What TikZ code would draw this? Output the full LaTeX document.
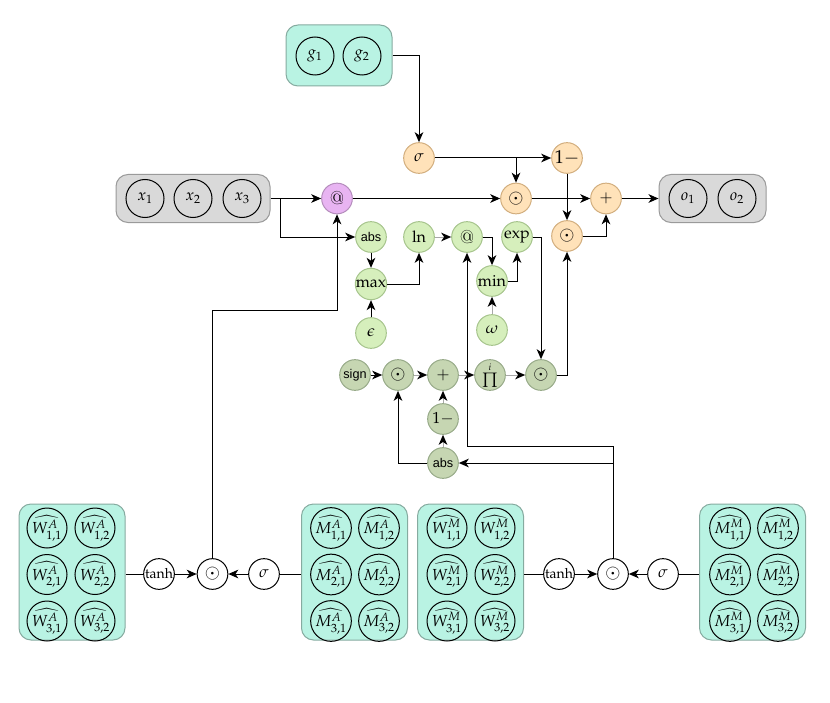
\documentclass[tikz,border=0pt]{standalone}
\usepackage{mathpazo}
\usepackage[no-math]{fontspec}
\setsansfont{Liberation Sans}
\usetikzlibrary{arrows.meta}

\definecolor{tealfill}{HTML}{B9F3E3}
\definecolor{tealline}{HTML}{86ABA0}
\definecolor{boxfill}{HTML}{D9D9D9}
\definecolor{boxline}{HTML}{9A9A9A}
\definecolor{gatefill}{HTML}{FFE2B9}
\definecolor{gateline}{HTML}{D2AE7E}
\definecolor{mixfill}{HTML}{E8B4F2}
\definecolor{mixline}{HTML}{B48DBC}
\definecolor{logfill}{HTML}{D6EFBC}
\definecolor{logline}{HTML}{A6C48C}
\definecolor{signfill}{HTML}{C6D6B2}
\definecolor{signline}{HTML}{97AA88}
\definecolor{litegray}{HTML}{A8A8A8}

\begin{document}
\begin{tikzpicture}[x=0.75pt,y=-0.75pt,line width=0.75pt,
    font=\fontsize{12}{14}\selectfont,
    >={Stealth[length=7.5pt,width=6.5pt,inset=2.2pt]},
    panel/.style={draw=#1line,fill=#1fill,rounded corners=9pt},
    cell/.style={circle,draw,minimum size=28.5pt,inner sep=0pt},
    wcell/.style={circle,draw,minimum size=30pt,inner sep=0pt},
    op/.style={circle,draw=#1line,fill=#1fill,minimum size=23pt,inner sep=0pt},
    actop/.style={circle,draw,fill=white,minimum size=23pt,inner sep=0.3pt},
    sans/.style={font=\sffamily\fontsize{9.5}{10}\selectfont},
    big/.style={font=\fontsize{14}{16}\selectfont},
    lite/.style={draw=litegray,-{Stealth[length=7.5pt,width=6.5pt,inset=2.2pt,color=black]}}]
  \useasboundingbox (0,0) rectangle (830,702);

  \node[panel=teal,minimum width=79.5pt,minimum height=45.75pt] (gbox) at (339,55.5) {};
  \node[cell] (g1) at (315,56) {$g_1$};
  \node[cell] (g2) at (362,56) {$g_2$};

  \node[panel=box,minimum width=115.5pt,minimum height=36pt] (xbox) at (193,198.5) {};
  \foreach \i/\x in {1/145,2/193,3/242}
    \node[cell] (x\i) at (\x,198.5) {$x_\i$};

  \node[panel=box,minimum width=80.25pt,minimum height=36pt] (obox) at (712.5,198.5) {};
  \node[cell] (o1) at (688,198.5) {$o_1$};
  \node[cell] (o2) at (737,198.5) {$o_2$};

  \node[op=gate] (gsig) at (419,158) {$\sigma$};
  \node[op=gate,big] (gone) at (567,158) {$1-$};
  \node[op=gate,big] (gmul) at (516,198.5) {$\odot$};
  \node[op=gate] (gadd) at (606,198.5) {$+$};
  \node[op=gate,big] (gmul2) at (567,236) {$\odot$};
  \node[op=mix,big] (amat) at (337,198.5) {@};

  \node[op=log,sans] (aabs) at (371,237) {abs};
  \node[op=log] (aln) at (419,237) {$\ln$};
  \node[op=log,big] (lmat) at (467,237) {@};
  \node[op=log] (aexp) at (517,237) {$\exp$};
  \node[op=log] (amax) at (371,284) {$\max$};
  \node[op=log] (amin) at (492,281) {$\min$};
  \node[op=log] (aeps) at (371,333) {$\epsilon$};
  \node[op=log] (aomg) at (492,330) {$\omega$};

  \node[op=sign,sans] (ssign) at (355,375) {sign};
  \node[op=sign,big] (smul) at (398,375) {$\odot$};
  \node[op=sign] (sadd) at (443,375) {$+$};
  \node[op=sign] (sprod) at (490,375) {$\prod\limits^{\scriptscriptstyle i}$};
  \node[op=sign,big] (smul2) at (541,375) {$\odot$};
  \node[op=sign] (sone) at (443,419) {$1-$};
  \node[op=sign,sans] (sabs) at (443,463) {abs};

  \foreach \cx/\nm in {72/wa,354.5/ma,470.5/wm,752.5/mm}
    \node[panel=teal,minimum width=79.5pt,minimum height=102pt] (box\nm) at (\cx,572) {};
  \foreach \bx/\nm/\tp/\ky in {47/W/A/wa,331/M/A/ma,447/W/M/wm,730/M/M/mm}
    \foreach \r in {1,2,3}
      \foreach \c in {1,2}
        \node[wcell] (\ky\r\c) at ({\bx+48*(\c-1)},{528+46.5*(\r-1)})
          {$\widehat{\nm^{\tp}_{\r,\c}}$};

  \node[actop,font=\fontsize{10.5}{12}\selectfont] (atanh) at (159,574) {$\tanh$};
  \node[actop,big] (amul) at (212.5,574) {$\odot$};
  \node[actop] (asig) at (264,574) {$\sigma$};
  \node[actop,font=\fontsize{10.5}{12}\selectfont] (mtanh) at (559,574) {$\tanh$};
  \node[actop,big] (mmul) at (613,574) {$\odot$};
  \node[actop] (msig) at (663,574) {$\sigma$};

  \coordinate (alevel) at (0,310);
  \coordinate (mlevel) at (0,446);

  \draw[->] (gbox.east) -| (gsig);
  \draw[->] (gsig) -- (gone);
  \draw[->] (gmul |- gsig) -- (gmul);
  \draw[->] (xbox.east) -- (amat);
  \draw[->] ([xshift=7.5pt]xbox.east) |- (aabs);
  \draw[->] (amat) -- (gmul);
  \draw[->] (gmul) -- (gadd);
  \draw[->] (gone) -- (gmul2);
  \draw[->] (gmul2) -| (gadd);
  \draw[->] (gadd) -- (obox);

  \draw[->] (aabs) -- (amax);
  \draw[->] (amax) -| (aln);
  \draw[->] (aeps) -- (amax);
  \draw[lite] (aln) -- (lmat);
  \draw[->] (lmat) -| (amin);
  \draw[->] (amin) -| (aexp);
  \draw[lite] (aomg) -- (amin);
  \draw[->] (aexp) -| (smul2);
  \draw[->] (smul2) -| (gmul2);

  \draw[->] (ssign) -- (smul);
  \draw[lite] (smul) -- (sadd);
  \draw[lite] (sadd) -- (sprod);
  \draw[lite] (sprod) -- (smul2);
  \draw[lite] (sone) -- (sadd);
  \draw[lite] (sabs) -- (sone);
  \draw[->] (sabs) -| (smul);

  \draw (boxwa.east |- atanh) -- (atanh);
  \draw[->] (atanh) -- (amul);
  \draw (boxma.west |- asig) -- (asig);
  \draw[->] (asig) -- (amul);
  \draw (boxwm.east |- mtanh) -- (mtanh);
  \draw[->] (mtanh) -- (mmul);
  \draw (boxmm.west |- msig) -- (msig);
  \draw[->] (msig) -- (mmul);

  \draw[->] (amul) -- (amul |- alevel) -| (amat);
  \draw[->] (mmul) -- (mmul |- mlevel) -| (lmat);
  \draw[->] (mmul |- sabs) -- (sabs);
\end{tikzpicture}
\end{document}
